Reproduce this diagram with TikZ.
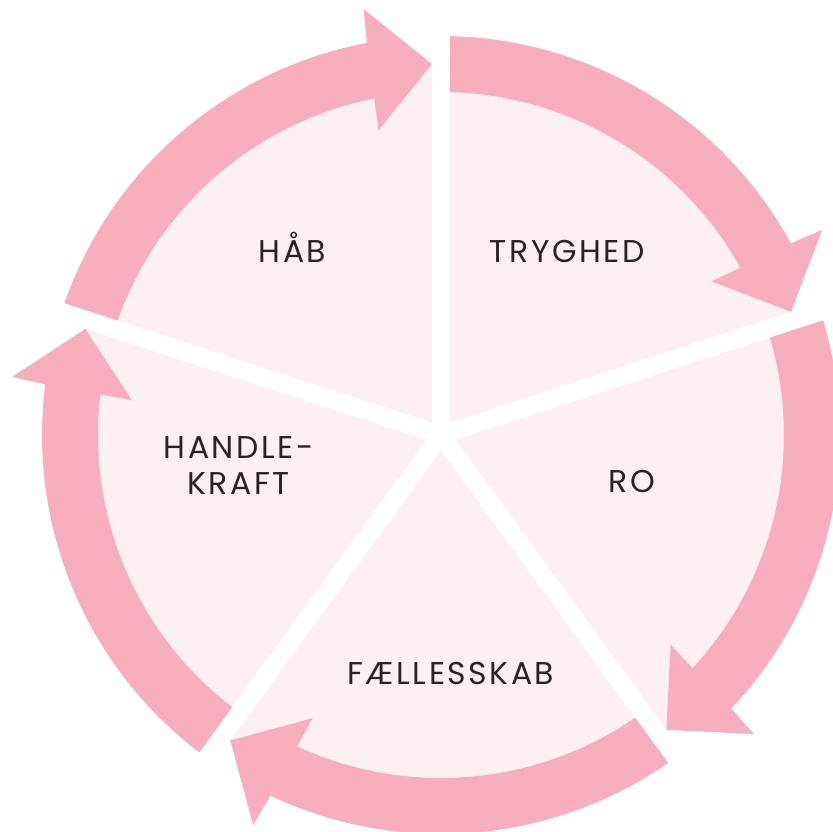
\documentclass[tikz,border=0pt]{standalone}
\usepackage{fontspec}
\setmainfont[LetterSpace=8]{Poppins}
\usetikzlibrary{calc}
\definecolor{ringpink}{RGB}{247,174,190}
\definecolor{wedgepink}{RGB}{253,240,242}
\definecolor{labelgray}{RGB}{40,36,37}
\begin{document}
\begin{tikzpicture}[x=1pt, y=1pt,
    wedgelabel/.style={font=\fontsize{31.5}{36.7}\selectfont, text=labelgray,
                       align=center, inner sep=0pt, anchor=base},
    gapline/.style={draw=white, line width=18pt}]
  \useasboundingbox (-441,-397) rectangle (392,435);
  \fill[wedgepink] (0,0) circle[radius=372];
  \foreach \g in {90,18,-54,-126,162}
    \draw[gapline] (0,0) -- (\g:385);
  \foreach \a in {162,90,18,-54,-126} {
    \pgfmathsetmacro\b{\a-72}
    \pgfmathsetmacro\tailout{\a-1.3}
    \pgfmathsetmacro\tailin{\a-1.5}
    \pgfmathsetmacro\baseout{\b+10.7}
    \pgfmathsetmacro\basein{\b+11.2}
    \fill[ringpink] (\tailout:399) arc[start angle=\tailout, end angle=\baseout, radius=399]
      -- (\b+10.3:433) -- ($(\b:371)+(\b+90:9)$) -- (\b+11.6:311)
      -- (\basein:343) arc[start angle=\basein, end angle=\tailin, radius=343] -- cycle;
  }
  \node[wedgelabel] (hab) at (-148.5,172.7) {HÅB};
  \node[wedgelabel] (tryghed) at (126.1,172.7) {TRYGHED};
  \node[wedgelabel] (ro) at (191.1,-57.3) {RO};
  \node[wedgelabel] (faellesskab) at (9.9,-250) {FÆLLESSKAB};
  \node[wedgelabel] (handlekraft) at (-202.3,-60) {HANDLE-\\KRAFT};
\end{tikzpicture}
\end{document}
